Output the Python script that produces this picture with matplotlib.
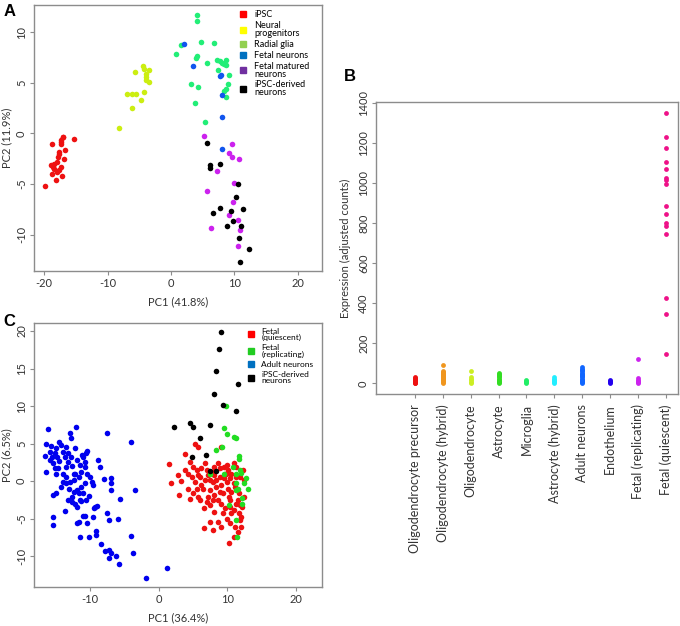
import matplotlib
matplotlib.use('Agg')
import matplotlib.pyplot as plt
from matplotlib.lines import Line2D

plt.rcParams['font.family'] = ['Lato', 'DejaVu Sans']
plt.rcParams['axes.unicode_minus'] = False

# ---- panel A: PCA of iPSC / fetal samples ----
a_ipsc_x = [-19.9, -18.8, -18.9, -18.6, -18.5, -18.8, -18.1, -18.4, -18.0, -17.7, -17.6, -17.4,
            -17.3, -17.1, -17.0, -16.7, -16.8, -17.2, -17.4, -17.7, -17.9, -15.3, -17.8, -17.3]
a_ipsc_y = [-5.2, -1.0, -3.1, -3.3, -3.5, -4.0, -4.6, -3.0, -2.8, -1.8, -2.0, -0.8,
            -0.6, -0.3, -0.3, -1.6, -2.5, -4.2, -3.3, -3.6, -3.8, -0.5, -2.3, -1.0]
a_np_x = [-8.2, -6.9, -6.1, -5.5, -6.2, -5.6, -4.7, -4.3, -4.4, -4.2, -3.9, -4.0, -3.5, -3.5, -3.9]
a_np_y = [0.5, 3.9, 3.9, 3.9, 2.5, 6.1, 3.3, 4.1, 6.7, 6.4, 5.3, 5.6, 6.3, 5.1, 5.9]
a_rg_x = [4.1, 4.1, 1.6, 0.8, 4.8, 6.7, 4.1, 4.0, 5.6, 7.2, 7.7, 8.0, 8.6, 8.3, 8.7, 7.4, 9.2,
          3.1, 4.3, 9.0, 8.6, 8.4, 8.7, 3.8, 5.4]
a_rg_y = [11.7, 11.1, 8.7, 7.9, 9.0, 8.9, 7.7, 7.5, 7.0, 7.3, 7.2, 7.0, 7.3, 6.9, 6.8, 6.3, 5.8,
          4.9, 4.6, 4.9, 4.4, 4.2, 3.6, 3.0, 1.1]
a_fn_x = [2.0, 3.4, 7.7, 7.9, 8.1, 8.1, 8.1]
a_fn_y = [8.8, 6.7, 5.7, 5.8, 3.8, 1.6, -1.5]
a_fm_x = [5.2, 9.6, 9.2, 9.6, 10.7, 7.2, 5.6, 9.9, 9.8, 9.2, 10.5, 6.3, 10.8, 10.5]
a_fm_y = [-0.2, -1.0, -1.9, -2.3, -2.5, -3.7, -5.7, -4.9, -6.8, -8.1, -8.6, -9.3, -9.5, -11.1]
a_id_x = [5.7, 6.2, 6.2, 7.7, 10.6, 6.6, 7.7, 9.4, 9.8, 8.8, 10.3, 11.4, 11.1, 10.7, 12.3, 10.8]
a_id_y = [-0.9, -3.1, -3.4, -3.0, -5.0, -7.9, -7.4, -7.7, -8.7, -9.1, -6.3, -7.5, -9.1, -10.3, -11.4, -12.7]
a_labels = ['iPSC', 'Neural\nprogenitors', 'Radial glia', 'Fetal neurons',
            'Fetal matured\nneurons', 'iPSC-derived\nneurons']

# ---- panel B: expression per cell type ----
b_cats = ['Oligodendrocyte precursor', 'Oligodendrocyte (hybrid)', 'Oligodendrocyte', 'Astrocyte',
          'Microglia', 'Astrocyte (hybrid)', 'Adult neurons', 'Endothelium',
          'Fetal (replicating)', 'Fetal (quiescent)']
b_vals = [
    [0, 4, 8, 12, 16, 20, 25, 30],
    [0, 5, 10, 15, 20, 25, 30, 35, 40, 45, 50, 55, 60, 90],
    [0, 8, 15, 22, 30, 60],
    [0, 6, 12, 18, 24, 30, 36, 42, 48, 52],
    [0, 5, 10, 15],
    [0, 6, 12, 18, 24, 30],
    [0, 6, 12, 18, 24, 30, 36, 42, 48, 54, 60, 66, 72, 80],
    [0, 5, 10, 15],
    [0, 6, 12, 18, 25, 122],
    [1353, 1230, 1175, 1108, 1072, 1028, 1017, 997, 888, 847, 800, 788, 747, 428, 345, 147],
]

# ---- panel C: PCA of fetal / adult / iPSC-derived neurons ----
c_fq_x = [1.5, 1.8, 2.9, 3.8, 5.3, 5.7, 4.5, 4.8, 4.3, 3.3, 5.5, 6.0, 6.6, 6.2, 6.8, 7.0, 7.4, 7.7,
          7.9, 8.1, 8.4, 8.7, 8.9, 9.0, 9.1, 9.4, 9.5, 9.6, 9.9, 10.0, 10.1, 10.3, 10.4, 10.6, 10.9,
          10.3, 9.9, 9.4, 8.7, 8.1, 7.4, 6.6, 10.9, 11.2, 11.3, 11.4, 11.6, 11.7, 11.9, 12.0, 12.2,
          12.4, 12.5, 12.3, 12.0, 5.5, 5.0, 6.0, 6.5, 7.2, 7.9, 8.7, 9.1, 10.4, 10.6, 10.9, 9.8, 8.9,
          8.1, 7.2, 6.2, 5.3, 3.8, 2.8, 4.3, 5.0, 5.7, 7.0, 8.1, 8.9, 9.5, 10.1, 10.6, 11.1, 11.7,
          11.8, 10.4, 11.1, 11.6, 9.1, 7.9, 7.4, 9.6, 10.9, 8.4, 6.8, 4.5, 5.7, 7.4, 10.4, 11.2, 11.9]
c_fq_y = [2.3, -0.3, -1.9, 3.6, 5.0, 4.6, -2.4, 0.5, 1.0, 0.0, -1.0, -2.5, -3.6, 1.7, 0.1, 1.5, -1.2,
          1.2, -0.1, 1.9, -0.8, 2.4, 0.6, 4.6, -0.5, -1.6, 1.9, 1.0, 2.1, -0.1, -1.0, -2.1, -3.4, -4.3,
          -7.4, -8.2, -5.0, -4.3, -5.4, -4.1, -5.4, -6.2, 2.4, 0.6, 1.9, -1.0, -2.5, -4.3, -5.2, -4.8,
          -3.4, 0.1, -2.1, 1.5, -6.1, 1.5, 1.9, 0.6, -1.0, -2.1, -2.5, -2.5, -3.0, -2.5, -1.4, -0.3,
          1.0, 1.7, 0.8, 0.8, -0.5, -0.1, 1.5, 0.8, -1.0, -1.6, -2.1, -2.8, -1.9, -1.4, 0.4, 1.5, 1.0,
          -0.8, -1.6, 0.6, -5.6, -6.1, -6.8, -6.1, -6.5, -3.2, -3.6, -3.9, 0.1, 2.4, 2.6, 0.8, 0.1,
          0.4, -3.0, -3.2]
c_fr_x = [9.8, 9.5, 9.9, 10.9, 11.2, 9.2, 8.3, 11.7, 11.7, 10.8, 11.8, 12.0, 12.7, 9.5, 11.2, 11.3,
          12.5, 13.0, 11.6, 11.2, 12.2, 12.2, 10.3, 11.3, 11.4, 7.5]
c_fr_y = [10.0, 7.1, 6.3, 5.9, 5.8, 4.6, 4.2, 3.3, 3.0, 1.9, 1.5, 1.1, 0.4, 1.0, 1.0, -0.3,
          -0.3, -1.0, -1.1, -1.2, -2.3, -3.0, -3.2, -5.2, -7.4, 1.0]
c_an_x = [-16.2, -16.5, -16.6, -16.4, -15.7, -15.9, -15.6, -15.9, -15.4, -15.2, -15.0, -14.5, -14.3,
          -14.8, -14.5, -14.7, -15.0, -13.9, -13.7, -13.5, -13.2, -13.0, -12.8, -13.2, -13.5, -13.9,
          -12.8, -12.6, -12.4, -13.5, -14.2, -15.0, -15.5, -15.5, -15.5, -13.7, -12.1, -12.2, -12.0,
          -12.9, -13.1, -12.3, -11.6, -11.3, -11.5, -11.1, -10.6, -10.5, -11.2, -10.8, -10.5, -10.1,
          -9.8, -10.8, -11.4, -11.9, -12.4, -11.6, -11.1, -12.7, -12.2, -11.5, -11.4, -11.9, -11.7,
          -12.0, -10.7, -10.5, -11.5, -10.2, -9.6, -9.3, -9.4, -9.2, -8.6, -8.0, -7.6, -7.5, -7.0,
          -7.0, -7.0, -7.2, -8.4, -7.8, -7.2, -7.0, -6.2, -5.8, -7.2, -5.9, -5.7, -4.0, -3.4, -4.1,
          -3.7, -1.9, 1.2, -9.0, -12.7, -13.5, -10.2, -9.6, -8.9, -10.8, -12.2, -15.2, -13.9, -13.2,
          -10.6, -11.1, -9.2]
c_an_y = [6.9, 5.0, 3.4, 1.2, 4.7, 3.9, 3.2, 2.8, 2.4, 3.7, 4.4, 5.2, 4.8, 3.2, 2.7, 1.7, 1.0, 3.9,
          3.2, 4.6, 3.7, 6.4, 5.7, 2.6, 1.9, 1.0, 3.2, 2.0, 1.0, -0.3, -0.8, -1.6, -1.8, -4.8, -5.8,
          -4.0, 7.2, 4.4, 2.8, -0.1, -1.0, 0.1, 0.6, 1.2, 2.1, 3.2, 3.7, 4.0, 3.5, 1.9, 1.0, 0.6, -0.1,
          -0.2, -0.8, -1.2, -1.5, -1.6, -1.6, -2.8, -3.0, -2.5, -2.7, -3.4, -5.4, -5.6, -4.7, -5.6,
          -7.5, -7.5, -4.8, -3.4, -3.6, -6.7, 1.9, 0.3, 6.4, -4.3, 0.4, -0.2, -1.2, -5.2, -8.4, -9.3,
          -9.2, -9.6, -10.0, -11.1, -10.2, -5.0, -2.4, 5.2, -1.2, -7.3, -9.6, -12.9, -11.6, -3.3,
          -2.1, 0.6, -2.0, -0.5, 2.8, 2.6, 1.0, 1.7, -0.1, -2.5, -2.5, -4.7, -7.2]
c_id_x = [9.0, 8.8, 8.3, 11.5, 8.1, 9.3, 11.3, 2.2, 4.5, 5.0, 7.4, 6.0, 4.9, 6.9, 7.4, 8.3]
c_id_y = [19.8, 17.6, 14.7, 12.9, 11.6, 10.2, 9.3, 7.2, 7.7, 7.2, 7.5, 5.7, 3.2, 3.5, 1.4, 1.4]
c_labels = ['Fetal\n(quiescent)', 'Fetal\n(replicating)', 'Adult neurons', 'iPSC-derived\nneurons']

# colours
a_cols = ['#ee1111', '#ccee11', '#22ee77', '#1155ee', '#cc22ee', '#000000']
a_leg_cols = ['#ff0000', '#ffff00', '#92d050', '#0070c0', '#7030a0', '#000000']
b_cols = ['#ee1111', '#f0961e', '#ccee22', '#33dd22', '#22ee66', '#22eeff',
          '#1166ff', '#2200ee', '#cc22ee', '#ee1188']
c_cols = ['#ee1111', '#22dd22', '#0000ee', '#000000']
c_leg_cols = ['#ff0000', '#22cc22', '#0070c0', '#000000']

frame_col = '#8c8c8c'
text_col = '#333333'


def style_axes(ax, size=8):
    for sp in ax.spines.values():
        sp.set_color(frame_col)
        sp.set_linewidth(1.0)
    ax.tick_params(length=3, color=frame_col, labelsize=size, pad=2, labelcolor=text_col)
    for lab in ax.get_yticklabels():
        lab.set_rotation(90)
        lab.set_va('center')


def tight_legend(ax, cols, labels, anchor, size, spacing):
    handles = [Line2D([], [], marker='s', ls='', color=c, markersize=5) for c in cols]
    leg = ax.legend(handles, labels, loc='upper left', bbox_to_anchor=anchor, frameon=False,
                    handlelength=1, handletextpad=0.8, labelspacing=spacing,
                    borderaxespad=0.2, prop={'size': size})
    for t in leg.get_texts():
        t.set_linespacing(0.85)
    return leg


fig = plt.figure(figsize=(6.8, 6.26), dpi=100)

# panel A
axA = fig.add_axes([0.05, 0.567, 0.4235, 0.425])
for xs, ys, c in zip([a_ipsc_x, a_np_x, a_rg_x, a_fn_x, a_fm_x, a_id_x],
                     [a_ipsc_y, a_np_y, a_rg_y, a_fn_y, a_fm_y, a_id_y], a_cols):
    axA.scatter(xs, ys, s=16, color=c, linewidths=0)
axA.set_xlim(-21.6, 23.8)
axA.set_ylim(-13.6, 12.7)
axA.set_xticks([-20, -10, 0, 10, 20])
axA.set_yticks([-10, -5, 0, 5, 10])
style_axes(axA)
axA.set_xlabel('PC1 (41.8%)', fontsize=8, labelpad=5, color=text_col)
axA.set_ylabel('PC2 (11.9%)', fontsize=8, labelpad=3, color=text_col)
tight_legend(axA, a_leg_cols, a_labels, (0.69, 1.0), 6.5, 0.2)

# panel B
axB = fig.add_axes([0.553, 0.3701, 0.4437, 0.4665])
for i, (vals, c) in enumerate(zip(b_vals, b_cols)):
    axB.scatter([i + 1] * len(vals), vals, s=12, color=c, linewidths=0)
axB.set_xlim(-0.4, 10.43)
axB.set_ylim(-55, 1405)
axB.set_xticks(range(1, 11))
axB.set_xticklabels(b_cats, rotation=90)
axB.set_yticks(range(0, 1401, 200))
style_axes(axB)
axB.tick_params(axis='x', labelsize=9, pad=4)
axB.set_ylabel('Expression (adjusted counts)', fontsize=8, labelpad=5, color=text_col)

# panel C
axC = fig.add_axes([0.05, 0.0623, 0.4235, 0.4222])
for xs, ys, c in zip([c_fq_x, c_fr_x, c_an_x, c_id_x],
                     [c_fq_y, c_fr_y, c_an_y, c_id_y], c_cols):
    axC.scatter(xs, ys, s=16, color=c, linewidths=0)
axC.set_xlim(-18.2, 23.8)
axC.set_ylim(-14.1, 21.1)
axC.set_xticks([-10, 0, 10, 20])
axC.set_yticks([-10, -5, 0, 5, 10, 15, 20])
style_axes(axC)
axC.set_xlabel('PC1 (36.4%)', fontsize=8, labelpad=5, color=text_col)
axC.set_ylabel('PC2 (6.5%)', fontsize=8, labelpad=3, color=text_col)
tight_legend(axC, c_leg_cols, c_labels, (0.72, 1.0), 6, 0.4)

# panel letters
for lab, x, y in [('A', 0.005, 0.975), ('B', 0.505, 0.87), ('C', 0.005, 0.48)]:
    fig.text(x, y, lab, fontsize=12, fontweight='bold', family='Liberation Sans')

fig.savefig('out.png', dpi=100)
